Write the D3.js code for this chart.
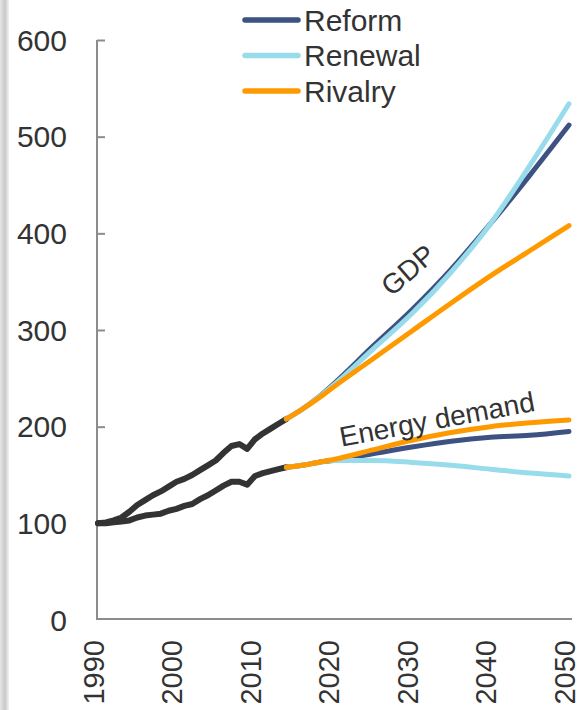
<!DOCTYPE html>
<html>
<head>
<meta charset="utf-8">
<script src="https://cdn.jsdelivr.net/npm/d3@7"></script>
<style>
  html, body { margin: 0; padding: 0; background: #fff; }
  svg { display: block; font-family: "Liberation Sans", Arial, sans-serif; }
</style>
</head>
<body>
<svg id="chart" width="581" height="710"></svg>
<script>
// ---- data ----
const histYears = [1990,1991,1992,1993,1994,1995,1996,1997,1998,1999,2000,2001,2002,2003,2004,2005,2006,2007,2008,2009,2010,2011,2012,2013,2014];
const histGDP   = [100,101,103,106,112,119,124,129,133,138,143,146,150,155,160,165,173,180,182,177,187,193,198,203,208];
const histEnergy= [100,100,101,102,103,106,108,109,110,113,115,118,120,125,129,134,139,143,143,140,149,152,154,156,158];

const projYears = [2014,2016,2018,2020,2025,2030,2035,2040,2045,2050];
const gdpReform   = [208,218,230,244,283,321,363,410,460,512];
const gdpRenewal  = [208,218,230,243,280,317,360,410,470,534];
const gdpRivalry  = [208,218,229,241,270,299,328,356,382,408];
const enReform    = [158,160,163,165,172,179,185,189,191,195];
const enRenewal   = [158,160,163,165,165,163,160,156,152,149];
const enRivalry   = [158,160,163,166,176,186,194,200,204,207];

const scenarios = ["Reform","Renewal","Rivalry"];
const colors = {Reform:"#3d5282", Renewal:"#98dcec", Rivalry:"#ff9900"};
const yTicks = [0,100,200,300,400,500,600];
const xTicks = [1990,2000,2010,2020,2030,2040,2050];

// ---- chart ----
const svg = d3.select("#chart");
const x = d3.scaleLinear().domain([1990,2050]).range([98,569]);
const y = d3.scaleLinear().domain([0,600]).range([620,40]);
const textColor = "#333333";
const axisColor = "#8c8c8c";

// left edge gray bar
const defs = svg.append("defs");
const grad = defs.append("linearGradient").attr("id","edge").attr("x1","0").attr("x2","1").attr("y1","0").attr("y2","0");
grad.append("stop").attr("offset","0%").attr("stop-color","#e6e6e6");
grad.append("stop").attr("offset","55%").attr("stop-color","#c9c9c9");
grad.append("stop").attr("offset","100%").attr("stop-color","#f2f2f2");
svg.append("rect").attr("x",0).attr("y",0).attr("width",9).attr("height",710).attr("fill","url(#edge)");

// y axis
const yAxis = svg.append("g").attr("transform",`translate(${x(1990)-1},0)`)
  .call(d3.axisRight(y).tickValues(yTicks).tickSize(8).tickFormat(""));
yAxis.select(".domain").remove();
yAxis.selectAll(".tick line").attr("stroke",axisColor).attr("stroke-width",2)
  .filter(d => d === 0).remove();
svg.append("path")
  .attr("d",`M${x(1990)-1},${y(600)}V${y(0)-1}H${x(2050)+3}`)
  .attr("fill","none").attr("stroke",axisColor).attr("stroke-width",2);

// y labels
svg.append("g").selectAll("text").data(yTicks).join("text")
  .attr("x",67).attr("y",d => y(d)).attr("dy","0.35em")
  .attr("text-anchor","end").attr("font-size",30).attr("fill",textColor)
  .text(d => d);

// x labels
svg.append("g").selectAll("text").data(xTicks).join("text")
  .attr("transform",d => `translate(${x(d)-3},640) rotate(-90)`)
  .attr("dy","0.3em").attr("text-anchor","end")
  .attr("font-size",29).attr("fill",textColor)
  .text(d => d);

// lines
const line = d3.line().x(d => x(d[0])).y(d => y(d[1]));
const smooth = d3.line().x(d => x(d[0])).y(d => y(d[1])).curve(d3.curveMonotoneX);
const zip = (xs, vs) => xs.map((v,i) => [v, vs[i]]);

const proj = {
  Reform: [gdpReform, enReform],
  Renewal: [gdpRenewal, enRenewal],
  Rivalry: [gdpRivalry, enRivalry]
};
const lineG = svg.append("g").attr("fill","none")
  .attr("stroke-linecap","round").attr("stroke-linejoin","round");

[histGDP, histEnergy].forEach(vals => {
  lineG.append("path").attr("d", line(zip(histYears, vals)))
    .attr("stroke","#333333").attr("stroke-width",6);
});
scenarios.forEach(s => {
  proj[s].forEach(vals => {
    lineG.append("path").attr("d", smooth(zip(projYears, vals)))
      .attr("stroke", colors[s]).attr("stroke-width",5);
  });
});

// annotations
svg.append("text").attr("transform","translate(408,270) rotate(-41)")
  .attr("text-anchor","middle").attr("dy","0.35em")
  .attr("font-size",28).attr("fill",textColor).text("GDP");
svg.append("text").attr("transform","translate(437,419) rotate(-10.5)")
  .attr("text-anchor","middle").attr("dy","0.35em")
  .attr("font-size",28).attr("fill",textColor).text("Energy demand");

// legend
const legend = svg.append("g");
scenarios.forEach((s,i) => {
  const ly = 20 + i*35.5;
  legend.append("line").attr("x1",245).attr("x2",298).attr("y1",ly).attr("y2",ly)
    .attr("stroke",colors[s]).attr("stroke-width",5.5).attr("stroke-linecap","round");
  legend.append("text").attr("x",304).attr("y",ly).attr("dy","0.35em")
    .attr("font-size",30).attr("fill",textColor).text(s);
});
</script>
</body>
</html>
